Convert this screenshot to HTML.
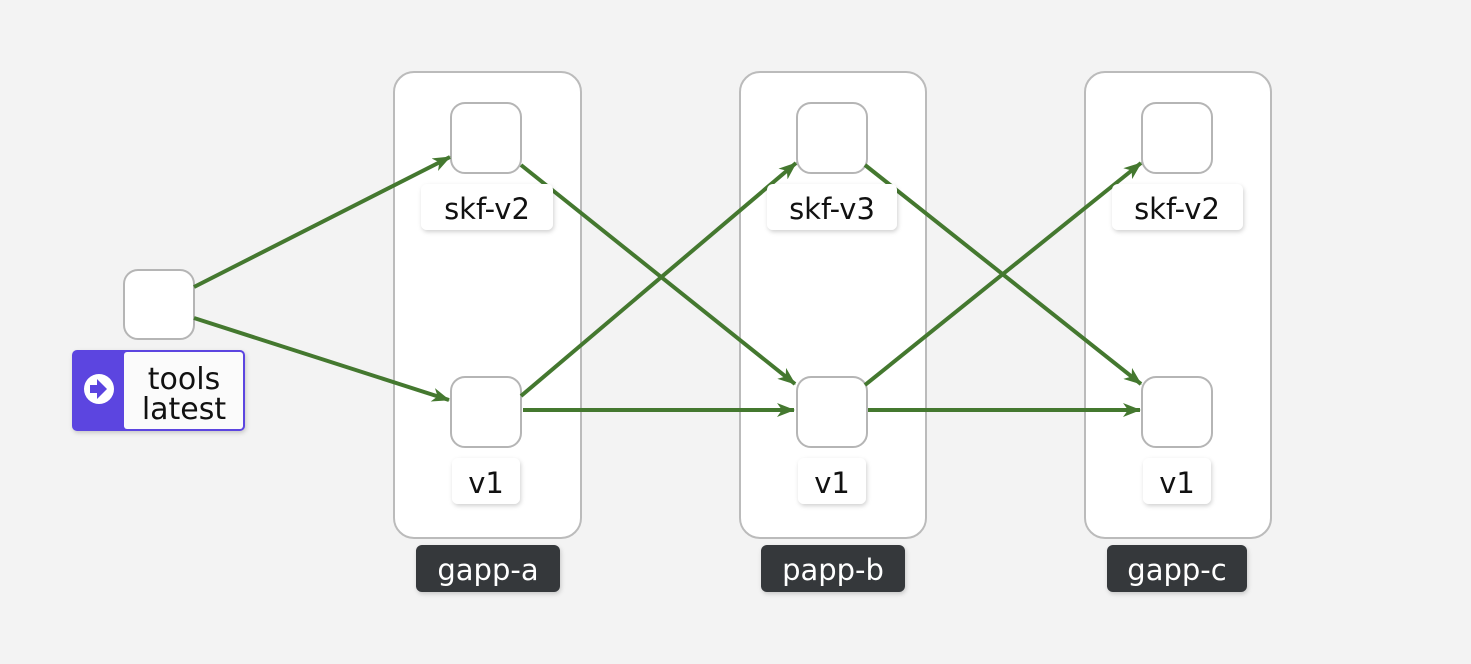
<!DOCTYPE html>
<html><head><style>
html,body{margin:0;padding:0;background:#f3f3f3;}
svg{display:block;font-family:"DejaVu Sans","Liberation Sans",sans-serif;}
</style></head><body>
<svg width="1471" height="664" viewBox="0 0 1471 664" xmlns="http://www.w3.org/2000/svg">
<defs>
<marker id="ar" viewBox="0 0 18 14" refX="17" refY="7" markerWidth="18" markerHeight="14" markerUnits="userSpaceOnUse" orient="auto">
<path d="M0,0 L18,7 L0,14 L5,7 z" fill="#44782f"/>
</marker>
<filter id="sh" x="-20%" y="-20%" width="140%" height="140%"><feDropShadow dx="1" dy="2" stdDeviation="2" flood-opacity="0.18"/></filter>
</defs>
<rect width="1471" height="664" fill="#f3f3f3"/>
<g fill="#fff" stroke="#bbb" stroke-width="2">
<rect x="394" y="72" width="187" height="466" rx="20"/>
<rect x="740" y="72" width="186" height="466" rx="20"/>
<rect x="1085" y="72" width="186" height="466" rx="20"/>
</g>
<g fill="#fff" stroke="#b5b5b5" stroke-width="2">
<rect x="124" y="270" width="70" height="69" rx="14"/>
<rect x="451" y="103" width="70" height="70" rx="14"/>
<rect x="451" y="377" width="70" height="70" rx="14"/>
<rect x="797" y="103" width="70" height="70" rx="14"/>
<rect x="797" y="377" width="70" height="70" rx="14"/>
<rect x="1142" y="103" width="70" height="70" rx="14"/>
<rect x="1142" y="377" width="70" height="70" rx="14"/>
</g>
<g stroke="#44782f" stroke-width="4" fill="none" marker-end="url(#ar)">
<line x1="194" y1="287" x2="450" y2="157"/>
<line x1="194" y1="318" x2="449" y2="400"/>
<line x1="521" y1="165" x2="795" y2="384"/>
<line x1="521" y1="396" x2="796" y2="163"/>
<line x1="523" y1="410" x2="794" y2="410"/>
<line x1="865" y1="165" x2="1141" y2="384"/>
<line x1="865" y1="385" x2="1141" y2="163"/>
<line x1="868" y1="410" x2="1140" y2="410"/>
</g>
<g fill="#fff" filter="url(#sh)">
<rect x="421" y="184" width="132" height="46" rx="6"/>
<rect x="452" y="458" width="68" height="46" rx="6"/>
<rect x="767" y="184" width="130" height="46" rx="6"/>
<rect x="798" y="458" width="68" height="46" rx="6"/>
<rect x="1112" y="184" width="131" height="46" rx="6"/>
<rect x="1143" y="458" width="68" height="46" rx="6"/>
</g>
<g font-size="29" fill="#111" text-anchor="middle">
<text x="487" y="219">skf-v2</text>
<text x="486" y="493">v1</text>
<text x="832" y="219">skf-v3</text>
<text x="832" y="493">v1</text>
<text x="1177" y="219">skf-v2</text>
<text x="1177" y="493">v1</text>
</g>
<g fill="#34373b" filter="url(#sh)">
<rect x="416" y="545" width="144" height="47" rx="6"/>
<rect x="761" y="545" width="144" height="47" rx="6"/>
<rect x="1107" y="545" width="140" height="47" rx="6"/>
</g>
<g font-size="29" fill="#fff" text-anchor="middle">
<text x="488" y="580">gapp-a</text>
<text x="833" y="580">papp-b</text>
<text x="1177" y="580">gapp-c</text>
</g>
<g filter="url(#sh)">
<rect x="72" y="350" width="173" height="81" rx="5" fill="#5b44e0"/>
<rect x="124" y="352" width="119" height="77" rx="3" fill="#fbfbfb"/>
</g>
<circle cx="99" cy="389" r="15" fill="#fff"/>
<path d="M90,385 h7 v-6 l10,10 l-10,10 v-6 h-7 z" fill="#5b44e0"/>
<g font-size="30" fill="#111" text-anchor="middle">
<text x="184" y="389">tools</text>
<text x="184" y="419">latest</text>
</g>
</svg>
</body></html>
